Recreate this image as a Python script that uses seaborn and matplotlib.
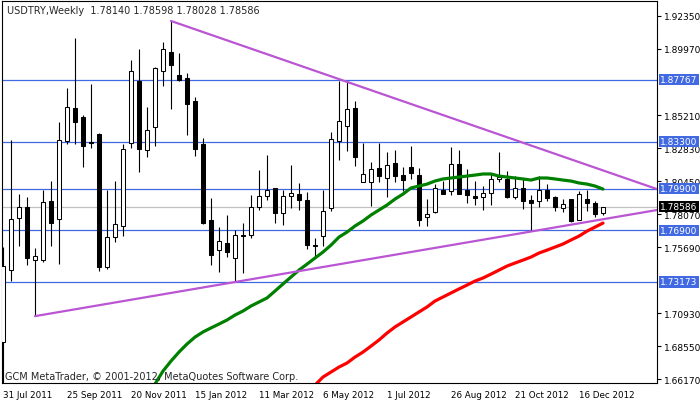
import numpy as np
import pandas as pd
import seaborn as sns
import matplotlib.pyplot as plt

# weekly USDTRY candles
first_week = "2011-07-31"
opens = [1.6884, 1.7403, 1.7778, 1.7858, 1.7475, 1.7475, 1.7901, 1.7771, 1.8333, 1.8572,
         1.8507, 1.8326, 1.8384, 1.7425, 1.7641, 1.7721, 1.8319, 1.8766, 1.8269, 1.8434,
         1.8838, 1.8975, 1.8810, 1.8788, 1.8622, 1.8312, 1.7764, 1.7547, 1.7598, 1.7490,
         1.7659, 1.7656, 1.7858, 1.7937, 1.7995, 1.7814, 1.7937, 1.7951, 1.7908, 1.7583,
         1.7648, 1.7850, 1.8333, 1.8442, 1.8572, 1.8038, 1.8038, 1.8139, 1.8067, 1.8175,
         1.8088, 1.8146, 1.8088, 1.7786, 1.7822, 1.7980, 1.7973, 1.8168, 1.7980, 1.7937,
         1.7930, 1.7959, 1.8060, 1.8060, 1.7930, 1.7995, 1.7908, 1.7901, 1.7980, 1.7930,
         1.7850, 1.7915, 1.7764, 1.7915, 1.7886, 1.78140]
highs = [1.7569, 1.8341, 1.7951, 1.7930, 1.7562, 1.7980, 1.8045, 1.8471, 1.8716, 1.9076,
         1.8521, 1.8745, 1.8391, 1.7980, 1.8045, 1.8312, 1.8918, 1.8997, 1.8579, 1.8867,
         1.9048, 1.9199, 1.8968, 1.8824, 1.8651, 1.8355, 1.7923, 1.7713, 1.7800, 1.7692,
         1.7742, 1.7944, 1.8124, 1.8233, 1.7995, 1.7980, 1.8161, 1.8031, 1.7966, 1.7634,
         1.7980, 1.8398, 1.8766, 1.8759, 1.8622, 1.8319, 1.8182, 1.8319, 1.8254, 1.8269,
         1.8146, 1.8297, 1.8139, 1.7915, 1.8023, 1.8045, 1.8290, 1.8269, 1.8132, 1.8045,
         1.8009, 1.8096, 1.8254, 1.8117, 1.8081, 1.8060, 1.7944, 1.8081, 1.8023, 1.7937,
         1.7915, 1.7915, 1.7973, 1.7980, 1.7901, 1.78598]
lows = [1.6500, 1.7324, 1.7576, 1.7439, 1.7071, 1.7461, 1.7576, 1.7446, 1.8312, 1.8312,
        1.8146, 1.8283, 1.7396, 1.7410, 1.7605, 1.7648, 1.8283, 1.8110, 1.8218, 1.8297,
        1.8730, 1.8564, 1.8766, 1.8377, 1.8225, 1.7735, 1.7439, 1.7389, 1.7497, 1.7324,
        1.7382, 1.7634, 1.7836, 1.7908, 1.7742, 1.7728, 1.7850, 1.7836, 1.7555, 1.7504,
        1.7576, 1.7829, 1.8197, 1.8261, 1.8153, 1.8038, 1.7865, 1.8038, 1.7930, 1.8038,
        1.7973, 1.8060, 1.7721, 1.7721, 1.7814, 1.7951, 1.7944, 1.7951, 1.7886, 1.7872,
        1.7836, 1.7872, 1.8038, 1.7923, 1.7915, 1.7843, 1.7684, 1.7858, 1.7901, 1.7829,
        1.7822, 1.7749, 1.7764, 1.7829, 1.7786, 1.78028]
closes = [1.7432, 1.7771, 1.7858, 1.7490, 1.7504, 1.7894, 1.7742, 1.8341, 1.8579, 1.8471,
          1.8297, 1.8316, 1.7425, 1.7641, 1.7735, 1.8276, 1.8838, 1.8276, 1.8413, 1.8860,
          1.8997, 1.8882, 1.8773, 1.8600, 1.8276, 1.7742, 1.7511, 1.7612, 1.7533, 1.7656,
          1.7652, 1.7858, 1.7937, 1.7980, 1.7814, 1.7937, 1.7959, 1.7908, 1.7583, 1.7580,
          1.7829, 1.8348, 1.8478, 1.8564, 1.8218, 1.8096, 1.8132, 1.8081, 1.8161, 1.8081,
          1.8052, 1.8103, 1.7764, 1.7807, 1.7995, 1.7951, 1.8168, 1.7951, 1.7944, 1.7923,
          1.7959, 1.8060, 1.8074, 1.7930, 1.7995, 1.7901, 1.7886, 1.7980, 1.7923, 1.7858,
          1.7879, 1.7757, 1.7951, 1.7886, 1.7807, 1.78586]

# moving averages (only the visible part)
green_start = 19
green_ma = [1.6582, 1.6675, 1.6747, 1.6812, 1.6870, 1.6920, 1.6957, 1.6986, 1.7014, 1.7043,
            1.7079, 1.7108, 1.7144, 1.7173, 1.7202, 1.7252, 1.7303, 1.7353, 1.7403, 1.7446,
            1.7490, 1.7533, 1.7583, 1.7641, 1.7677, 1.7721, 1.7757, 1.7800, 1.7836, 1.7872,
            1.7915, 1.7951, 1.7995, 1.8009, 1.8023, 1.8045, 1.8060, 1.8067, 1.8074, 1.8081,
            1.8088, 1.8096, 1.8096, 1.8081, 1.8074, 1.8067, 1.8060, 1.8052, 1.8067, 1.8067,
            1.8060, 1.8052, 1.8045, 1.8031, 1.8023, 1.8009, 1.7987]
red_start = 39
red_ma = [1.6574, 1.6632, 1.6668, 1.6704, 1.6733, 1.6776, 1.6812, 1.6855, 1.6899, 1.6949,
          1.6993, 1.7029, 1.7065, 1.7101, 1.7137, 1.7180, 1.7209, 1.7238, 1.7267, 1.7295,
          1.7324, 1.7346, 1.7374, 1.7403, 1.7432, 1.7454, 1.7475, 1.7497, 1.7526, 1.7547,
          1.7569, 1.7591, 1.7620, 1.7648, 1.7684, 1.7713, 1.7742]

# trend lines: two anchors (week index, price), extended to the right
upper_trend = [(21, 1.9199), (42, 1.8780)]
lower_trend = [(4, 1.7071), (29, 1.7317)]

levels = [1.87767, 1.83300, 1.79900, 1.76900, 1.73173]
last_price = 1.78586
# 1.87590 and 1.73310 sit under the level boxes, so they are not labelled
price_ticks = [1.66170, 1.68550, 1.70930, 1.75690, 1.78070,
               1.80450, 1.82830, 1.85210, 1.89970, 1.92350]

df = pd.DataFrame({"week": pd.date_range(first_week, periods=len(opens), freq="7D"),
                   "open": opens, "high": highs, "low": lows, "close": closes})
df["idx"] = np.arange(len(df))

sns.set_style("white")
plt.rcParams["font.family"] = ["DejaVu Sans"]

fig = plt.figure(figsize=(7, 4.02), dpi=100)
ax = fig.add_axes([2 / 700, 18 / 402, 655 / 700, 382 / 402])
xmax = 81.75
ax.set_xlim(-0.125, xmax)
ax.set_ylim(1.6589, 1.9343)

# horizontal levels and bid line
for lv in levels:
    ax.axhline(lv, color="#4169e1", lw=0.9, zorder=1)
ax.axhline(last_price, color="#c0c0c0", lw=0.9, zorder=1)

# candles
ax.vlines(df["idx"], df["low"], df["high"], color="black", lw=0.8, zorder=3)
bull = df["close"] >= df["open"]
body_lo = np.minimum(df["open"], df["close"])
body_h = np.maximum((df["close"] - df["open"]).abs(), 0.0004)
ax.bar(df["idx"], body_h, bottom=body_lo, width=0.52,
       color=np.where(bull, "white", "black"), edgecolor="black", linewidth=0.75, zorder=4)

# moving averages
g = pd.DataFrame({"idx": np.arange(green_start, green_start + len(green_ma)), "ma": green_ma})
r = pd.DataFrame({"idx": np.arange(red_start, red_start + len(red_ma)), "ma": red_ma})
sns.lineplot(data=g, x="idx", y="ma", color="#008000", linewidth=2.3, ax=ax, zorder=5)
sns.lineplot(data=r, x="idx", y="ma", color="#ff0000", linewidth=2.3, ax=ax, zorder=5)

# trend lines
for (x0, y0), (x1, y1) in [upper_trend, lower_trend]:
    slope = (y1 - y0) / (x1 - x0)
    ax.plot([x0, xmax], [y0, y0 + slope * (xmax - x0)], color="#ba55d3", lw=1.6, zorder=6)

# axes styling
for s in ax.spines.values():
    s.set_color("black")
    s.set_linewidth(0.8)
ax.set_xlabel("")
ax.set_ylabel("")
ax.yaxis.tick_right()
ax.set_yticks(price_ticks)
ax.set_yticklabels([f"{p:.5f}" for p in price_ticks])
xt = list(range(0, len(df), 8))
ax.set_xticks(xt)
ax.set_xticklabels([f"{d.day} {d.strftime('%b %Y')}" for d in df["week"].iloc[xt]], ha="left")
ax.tick_params(axis="both", direction="out", length=3, width=0.8, labelsize=6.5, pad=2,
               colors="black")
ax.tick_params(axis="x", labelsize=6.3)

# value boxes on the price scale
ytr = ax.get_yaxis_transform()
for lv in levels:
    ax.text(1.005, lv, f"{lv:.5f}", transform=ytr, ha="left", va="center", fontsize=6.5,
            color="white", clip_on=False, zorder=10,
            bbox=dict(boxstyle="square,pad=0.12", fc="#4169e1", ec="none"))
ax.text(1.005, last_price, f"{last_price:.5f}", transform=ytr, ha="left", va="center",
        fontsize=6.5, color="white", clip_on=False, zorder=10,
        bbox=dict(boxstyle="square,pad=0.12", fc="black", ec="none"))

fig.text(7 / 700, 1 - 11 / 402, "USDTRY,Weekly  1.78140 1.78598 1.78028 1.78586",
         fontsize=7, va="center", ha="left")
fig.text(5 / 700, 1 - 377 / 402, "GCM MetaTrader, © 2001-2012, MetaQuotes Software Corp.",
         fontsize=7, va="center", ha="left", zorder=20)

fig.savefig("out.png", dpi=100)
